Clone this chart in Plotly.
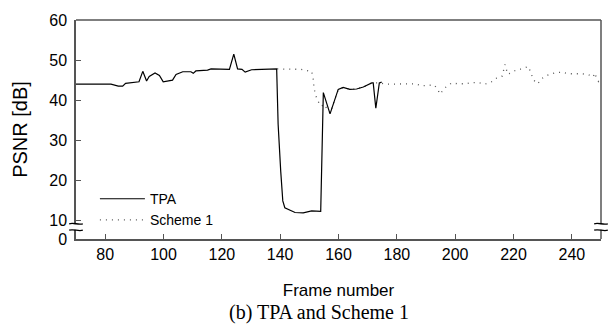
import plotly.graph_objects as go

# ---- data ----
tpa_x = [70, 82, 84.5, 86, 87, 91.6, 92.9, 94.2, 95.1, 97.1, 98.6, 99.9, 103.1, 104.3,
         106.6, 109.4, 110.2, 111.1, 115.1, 116.3, 122.6, 124.1, 125.4, 126.9, 128,
         130.2, 138.8, 139.3, 140.2, 140.9, 141.6, 145.1, 147.9, 150.8, 153.9, 154.8,
         157.1, 158.2, 159.9, 161.6, 163.9, 166.2, 168.5, 171.4, 171.9, 172.8, 174.0, 174.8]
tpa_y = [44.0, 44.0, 43.5, 43.5, 44.2, 44.6, 47.2, 44.8, 45.9, 46.8, 46.2, 44.6, 45.0, 46.4,
         47.1, 47.1, 46.7, 47.3, 47.5, 47.8, 47.7, 51.5, 47.8, 47.7, 47.0,
         47.6, 47.8, 34.0, 22.2, 14.9, 13.2, 12.0, 11.9, 12.4, 12.3, 41.9,
         36.6, 38.9, 42.7, 43.2, 42.7, 42.8, 43.3, 44.3, 44.3, 38.0, 44.3, 44.5]

s1_x = [139, 143, 147, 149.1, 150.8, 151.4, 151.6, 152.5, 153.6, 154.2, 155.0, 157.1,
        158.2, 159.9, 161.6, 163.9, 166.2, 168.5, 171.4, 174.0, 176.5, 180.0, 184.0,
        186.2, 188.5, 190.8, 192.8, 194.0, 194.8, 196.5, 198.8, 201.0, 203.4, 205.6,
        207.9, 210.2, 212.5, 214.2, 216.1, 217.1, 218.0, 219.1, 221.1, 222.8, 225.1,
        226.0, 226.8, 228.3, 229.7, 231.9, 234.2, 236.5, 238.8, 241.1, 243.4, 245.6,
        247.3, 247.9, 248.5, 249.2, 250.0]
s1_y = [47.8, 47.7, 47.7, 47.4, 47.2, 45.0, 42.9, 40.5, 38.9, 38.5, 39.0, 36.8,
        38.9, 42.6, 43.2, 42.7, 42.8, 43.3, 44.3, 44.3, 44.0, 44.0, 44.0,
        44.1, 43.6, 43.8, 43.8, 42.7, 41.5, 43.1, 44.3, 44.1, 44.1, 44.4,
        44.4, 44.0, 44.6, 45.5, 46.0, 48.9, 46.5, 46.8, 47.6, 47.8, 48.4,
        46.8, 45.1, 44.1, 45.4, 46.3, 46.8, 47.0, 46.6, 46.6, 46.6, 46.4,
        45.8, 46.8, 45.4, 44.6, 44.6]

x_ticks = [80, 100, 120, 140, 160, 180, 200, 220, 240]
y_tickvals = [5.4, 10, 20, 30, 40, 50, 60]   # 5.4 = compressed position of 0 (axis break)
y_ticktext = ["0", "10", "20", "30", "40", "50", "60"]

FONT = "Liberation Sans, Arial, sans-serif"

fig = go.Figure()
fig.add_trace(go.Scatter(x=s1_x, y=s1_y, mode="lines", name="Scheme 1", legendrank=2,
                         line=dict(color="#555555", width=1.3, dash="1px,5px")))
fig.add_trace(go.Scatter(x=tpa_x, y=tpa_y, mode="lines", name="TPA", legendrank=1,
                         line=dict(color="black", width=1.2)))

axis_col = "#555555"
fig.update_xaxes(range=[70, 250], tickvals=x_ticks, ticks="inside", ticklen=5,
                 tickcolor=axis_col, showline=True, linecolor=axis_col, linewidth=1.5,
                 mirror=False, showgrid=False, zeroline=False,
                 tickfont=dict(family=FONT, size=16, color="black"),
                 title=dict(text="Frame number", font=dict(family=FONT, size=17, color="black"),
                            standoff=22))
fig.update_yaxes(range=[5.4, 60], tickvals=y_tickvals, ticktext=y_ticktext, ticks="inside",
                 ticklen=5, tickcolor=axis_col, showline=True, linecolor=axis_col,
                 linewidth=1.5, showgrid=False, zeroline=False, ticklabelstandoff=4,
                 tickfont=dict(family=FONT, size=16, color="black"),
                 title=dict(text="PSNR [dB]", font=dict(family=FONT, size=20, color="black"),
                            standoff=16))

shapes = []
# top and right frame lines
shapes.append(dict(type="line", xref="paper", yref="paper", x0=0, x1=1, y0=1, y1=1,
                   line=dict(color=axis_col, width=1.5)))
shapes.append(dict(type="line", xref="paper", yref="paper", x0=1, x1=1, y0=0, y1=1,
                   line=dict(color=axis_col, width=1.5)))
# axis break marks on both vertical axes
for xc in (0.0, 1.0):
    shapes.append(dict(type="rect", xref="paper", yref="y", x0=xc - 0.006, x1=xc + 0.006,
                       y0=7.7, y1=9.1, fillcolor="white", line=dict(width=0), layer="above"))
    for yc in (9.2, 7.6):
        d = 0.35
        path = (f"M {xc-0.013},{yc} C {xc-0.004},{yc+d} {xc+0.004},{yc-d} {xc+0.013},{yc}")
        shapes.append(dict(type="path", xref="paper", yref="y", path=path,
                           line=dict(color="black", width=1.3), layer="above"))

fig.update_layout(
    width=613, height=330,
    margin=dict(l=76, r=12, t=15, b=91),
    plot_bgcolor="white", paper_bgcolor="white",
    shapes=shapes,
    showlegend=True,
    legend=dict(x=0.036, y=0.255, xanchor="left", yanchor="top", bgcolor="rgba(0,0,0,0)",
                font=dict(family=FONT, size=14, color="black"), tracegroupgap=0,
                itemwidth=45),
    annotations=[dict(text="(b) TPA and Scheme 1", xref="paper", yref="paper",
                      x=0.462, y=-0.335, xanchor="center", yanchor="middle", showarrow=False,
                      font=dict(family="Liberation Serif, Times New Roman, serif", size=20,
                                color="black"))],
)

fig.write_html("out.html")
